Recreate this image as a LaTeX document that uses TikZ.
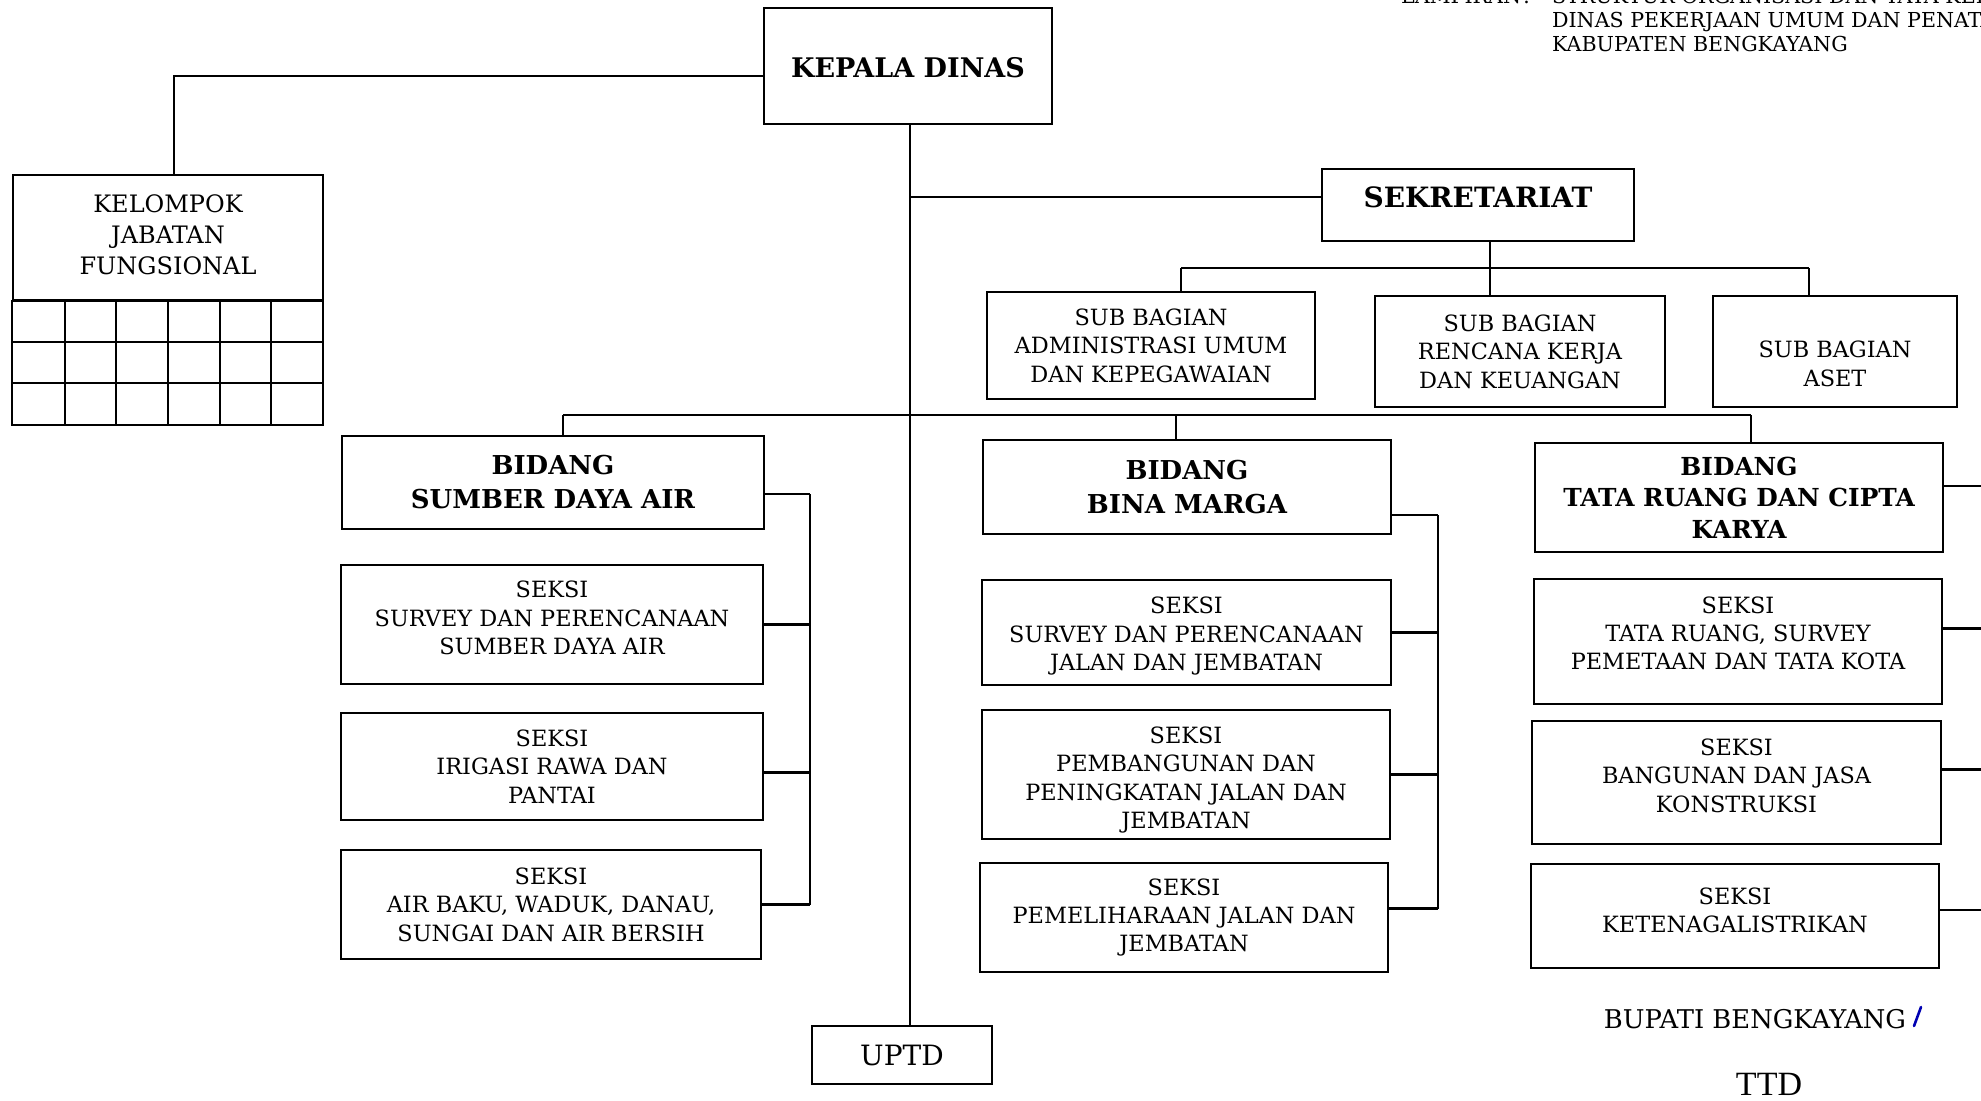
\documentclass[tikz,border=0pt]{standalone}
\usepackage{fontspec}
\setmainfont{DejaVu Serif}
\newfontfamily\timesfont{Liberation Serif}
% text moved up or down inside its box
\newcommand{\textlift}[2]{\raisebox{#1}[\height][\depth]{\begin{tabular}{@{}c@{}}#2\end{tabular}}}

\begin{document}
\begin{tikzpicture}[x=0.5pt,y=-0.5pt,
	unit/.style={draw,line width=1.1pt,align=center,inner sep=0pt,font=\fontsize{11.2}{14.2}\selectfont},
	head/.style={unit,font=\fontsize{13}{17}\selectfont\bfseries},
	link/.style={line width=1.1pt}]
	\useasboundingbox (0,0) rectangle (1981,1100);

	% Kepala dinas and top level
	\node[head,minimum width=144pt,minimum height=58pt,font=\fontsize{13.5}{16}\selectfont\bfseries] (kadis) at (908,66) {\textlift{-2.5pt}{KEPALA DINAS}};
	\node[unit,minimum width=155pt,minimum height=62.5pt,font=\fontsize{12}{15.5}\selectfont] (kjf) at (168,237.5) {\textlift{0pt}{KELOMPOK\\JABATAN\\FUNGSIONAL}};
	\node[head,minimum width=156pt,minimum height=36pt,font=\fontsize{14}{16}\selectfont\bfseries] (sekr) at (1478,205) {\textlift{1.8pt}{SEKRETARIAT}};
	\node[unit,minimum width=90pt,minimum height=29pt,font=\fontsize{14}{16}\selectfont] (uptd) at (902,1055) {UPTD};

	% Grid under kelompok jabatan fungsional
	\draw[link] (kjf.south west) rectangle (323,425);
	\foreach \i in {1,...,5}
		\draw[link] ({13+\i*51.67},300) -- ({13+\i*51.67},425);
	\foreach \j in {1,2}
		\draw[link] (13,{300+\j*41.67}) -- (323,{300+\j*41.67});

	% Sub bagian
	\node[unit,minimum width=164pt,minimum height=53.5pt] (sba) at (1151,345.5) {SUB BAGIAN\\ADMINISTRASI UMUM\\DAN KEPEGAWAIAN};
	\node[unit,minimum width=145pt,minimum height=55.5pt] (sbr) at (1520,351.5) {SUB BAGIAN\\RENCANA KERJA\\DAN KEUANGAN};
	\node[unit,minimum width=122pt,minimum height=55.5pt] (sbaset) at (1835,351.5) {\textlift{-7.5pt}{SUB BAGIAN\\ASET}};

	% Bidang sumber daya air
	\node[head,minimum width=211pt,minimum height=46.5pt] (sda) at (553,482.5) {BIDANG\\SUMBER DAYA AIR};
	\node[unit,minimum width=211pt,minimum height=59.5pt] (sda1) at (552,624.5) {\textlift{2pt}{SEKSI\\SURVEY DAN PERENCANAAN\\SUMBER DAYA AIR}};
	\node[unit,minimum width=211pt,minimum height=53.5pt] (sda2) at (552,766.5) {SEKSI\\IRIGASI RAWA DAN\\PANTAI};
	\node[unit,minimum width=210pt,minimum height=54.5pt] (sda3) at (551,904.5) {SEKSI\\AIR BAKU, WADUK, DANAU,\\SUNGAI DAN AIR BERSIH};

	% Bidang bina marga
	\node[head,minimum width=204pt,minimum height=47pt] (bm) at (1187,487) {BIDANG\\BINA MARGA};
	\node[unit,minimum width=204.5pt,minimum height=52.5pt] (bm1) at (1186.5,632.5) {\textlift{-2pt}{SEKSI\\SURVEY DAN PERENCANAAN\\JALAN DAN JEMBATAN}};
	\node[unit,minimum width=204pt,minimum height=64.5pt] (bm2) at (1186,774.5) {\textlift{-2.8pt}{SEKSI\\PEMBANGUNAN DAN\\PENINGKATAN JALAN DAN\\JEMBATAN}};
	\node[unit,minimum width=204pt,minimum height=54.5pt] (bm3) at (1184,917.5) {SEKSI\\PEMELIHARAAN JALAN DAN\\JEMBATAN};

	% Bidang tata ruang dan cipta karya
	\node[head,minimum width=204pt,minimum height=54.5pt,font=\fontsize{12.4}{15.8}\selectfont\bfseries] (tr) at (1739,497.5) {\textlift{-1.5pt}{BIDANG\\TATA RUANG DAN CIPTA\\KARYA}};
	\node[unit,minimum width=204pt,minimum height=62.5pt] (tr1) at (1738,641.5) {\textlift{2.8pt}{SEKSI\\TATA RUANG, SURVEY\\PEMETAAN DAN TATA KOTA}};
	\node[unit,minimum width=204.5pt,minimum height=61.5pt] (tr2) at (1736.5,782.5) {\textlift{2.2pt}{SEKSI\\BANGUNAN DAN JASA\\KONSTRUKSI}};
	\node[unit,minimum width=204pt,minimum height=52pt] (tr3) at (1735,916) {\textlift{1.5pt}{SEKSI\\KETENAGALISTRIKAN}};

	% Main lines
	\coordinate (kjfturn) at (174,76);
	\draw[link] (kadis.west |- kjfturn) -- (kjfturn) -- (kjfturn |- kjf.north);
	\draw[link] (kadis.south -| 910,0) -- (uptd.north -| 910,0);
	\draw[link] (910,197) -- (sekr.west |- 0,197);

	% Sub bagian lines
	\coordinate (sbbus) at (1490,268);
	\draw[link] (sekr.south -| sbbus) -- (sbbus);
	\draw[link] (1181,268) -- (1809,268);
	\draw[link] (1181,268) -- (sba.north -| 1181,0);
	\draw[link] (sbbus) -- (sbr.north -| sbbus);
	\draw[link] (1809,268) -- (sbaset.north -| 1809,0);

	% Bidang lines
	\draw[link] (563,415) -- (1751,415);
	\draw[link] (563,415) -- (sda.north -| 563,0);
	\draw[link] (1176,415) -- (bm.north -| 1176,0);
	\draw[link] (1751,415) -- (tr.north -| 1751,0);

	% Seksi brackets
	\coordinate (sdabus) at (810,0);
	\coordinate (bmbus) at (1438,0);
	\coordinate (trbus) at (1995,0);
	\foreach \n/\s in {sda/-5.75,sda1/0,sda2/-3,sda3/0}
		\draw[link] ([yshift=\s pt]\n.east) -- ([yshift=\s pt]\n.east -| sdabus);
	\draw[link] ([yshift=-5.75pt]sda.east -| sdabus) -- (sda3.east -| sdabus);
	\foreach \n/\s in {bm/-14,bm1/0,bm2/0,bm3/4.5}
		\draw[link] ([yshift=\s pt]\n.east) -- ([yshift=\s pt]\n.east -| bmbus);
	\draw[link] ([yshift=-14pt]bm.east -| bmbus) -- ([yshift=4.5pt]bm3.east -| bmbus);
	\foreach \n/\s in {tr/5.75,tr1/6.5,tr2/6.5,tr3/3}
		\draw[link] ([yshift=\s pt]\n.east) -- ([yshift=\s pt]\n.east -| trbus);

	% Lampiran heading
	\node[anchor=base west,font=\fontsize{10.3}{14}\selectfont] (lamp0) at (1394,3) {LAMPIRAN};
	\node[anchor=base west,font=\fontsize{10.3}{14}\selectfont] (lampc) at (1516,3) {:};
	\node[anchor=base west,font=\fontsize{10.3}{14}\selectfont] (lamp1) at (1545,3) {STRUKTUR ORGANISASI DAN TATA KERJA};
	\node[anchor=base west,font=\fontsize{10.3}{14}\selectfont] (lamp2) at (1545,27.5) {DINAS PEKERJAAN UMUM DAN PENATAAN RUANG};
	\node[anchor=base west,font=\fontsize{10.3}{14}\selectfont] (lamp3) at (1545,51.5) {KABUPATEN BENGKAYANG};

	% Signature
	\node[font=\fontsize{12.9}{15}\selectfont] (bupati) at (1755,1019) {BUPATI BENGKAYANG};
	\draw[blue!70!black,line width=1.3pt,line cap=round] (1914,1026) -- (1921,1007);
	\node[font=\timesfont\fontsize{17}{19}\selectfont] (ttd) at (1769,1084) {TTD};
\end{tikzpicture}
\end{document}
